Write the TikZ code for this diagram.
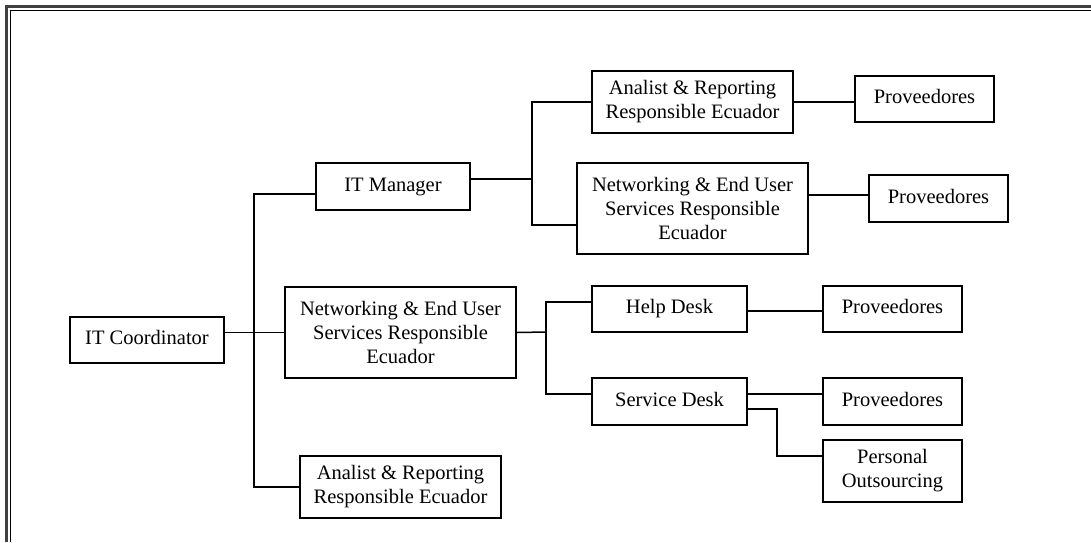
\documentclass[tikz,border=0pt]{standalone}
\usepackage{fontspec}
\setmainfont{Liberation Serif}
\begin{document}
\begin{tikzpicture}[x=1pt,y=-1pt,
  box/.style={draw, line width=1.5pt, inner sep=0pt, align=center,
    font=\fontsize{20.5}{24}\selectfont},
  oneline/.style={text height=14pt, text depth=5pt},
  link/.style={line width=1.5pt},
  frameouter/.style={line width=3pt, draw=black!75},
  frameinner/.style={line width=1.2pt, draw=black}]
\useasboundingbox (0,0) rectangle (1091,542);

% double frame (left and top edges)
\draw[frameouter] (1091,6.5) -- (6.5,6.5) -- (6.5,542);
\draw[frameinner] (1091,10.5) -- (10.5,10.5) -- (10.5,542);

% boxes
\node[box, oneline, minimum width=154pt, minimum height=46pt] (coord) at (147,340) {IT Coordinator};
\node[box, oneline, minimum width=154pt, minimum height=47pt] (mgr) at (393,186.5) {IT Manager};
\node[box, minimum width=231pt, minimum height=91pt] (netmid) at (400.5,332.5)
  {Networking \& End User\\Services Responsible\\Ecuador};
\node[box, minimum width=201pt, minimum height=62pt] (analb) at (400.5,487)
  {Analist \& Reporting\\Responsible Ecuador};
\node[box, minimum width=201pt, minimum height=62pt] (analt) at (692.5,102)
  {Analist \& Reporting\\Responsible Ecuador};
\node[box, minimum width=231pt, minimum height=91pt] (nettop) at (692.5,208.5)
  {Networking \& End User\\Services Responsible\\Ecuador};
\node[box, oneline, minimum width=139pt, minimum height=46pt] (prov1) at (924.5,99) {Proveedores};
\node[box, oneline, minimum width=139pt, minimum height=47pt] (prov2) at (938.5,198.5) {Proveedores};
\node[box, oneline, minimum width=155pt, minimum height=46pt] (help) at (669.5,309) {Help Desk};
\node[box, oneline, minimum width=139pt, minimum height=46pt] (prov3) at (892.5,309) {Proveedores};
\node[box, oneline, minimum width=155pt, minimum height=47pt] (svc) at (669.5,401.5) {Service Desk};
\node[box, oneline, minimum width=139pt, minimum height=47pt] (prov4) at (892.5,401.5) {Proveedores};
\node[box, minimum width=139pt, minimum height=62pt] (pout) at (892.5,471)
  {Personal\\Outsourcing};

% junction points
\coordinate (tk) at (254,332);
\coordinate (mj) at (532,179);
\coordinate (nj) at (546,332);
\coordinate (sj) at (777,456);

% connectors
\draw[link] (coord.east |- netmid.west) -- (netmid.west);
\draw[link] ([yshift=-7.5pt]mgr.west) -| (tk) |- (analb.west);
\draw[link] ([yshift=7.5pt]mgr.east) -- (mj);
\draw[link] (analt.west) -| (mj) |- ([yshift=-16.5pt]nettop.west);
\draw[link] (analt.east) -- (analt.east -| prov1.west);
\draw[link] ([yshift=13.5pt]nettop.east) -- ([yshift=13.5pt]nettop.east -| prov2.west);
\draw[link] (netmid.east) -- (nj);
\draw[link] ([yshift=7pt]help.west) -| (nj) |- ([yshift=7.5pt]svc.west);
\draw[link] ([yshift=-2pt]help.east) -- ([yshift=-2pt]prov3.west);
\draw[link] ([yshift=7.5pt]svc.east) -- ([yshift=7.5pt]prov4.west);
\draw[link] ([yshift=-7.5pt]svc.east) -| (sj) -- ([yshift=15pt]pout.west);
\end{tikzpicture}
\end{document}
